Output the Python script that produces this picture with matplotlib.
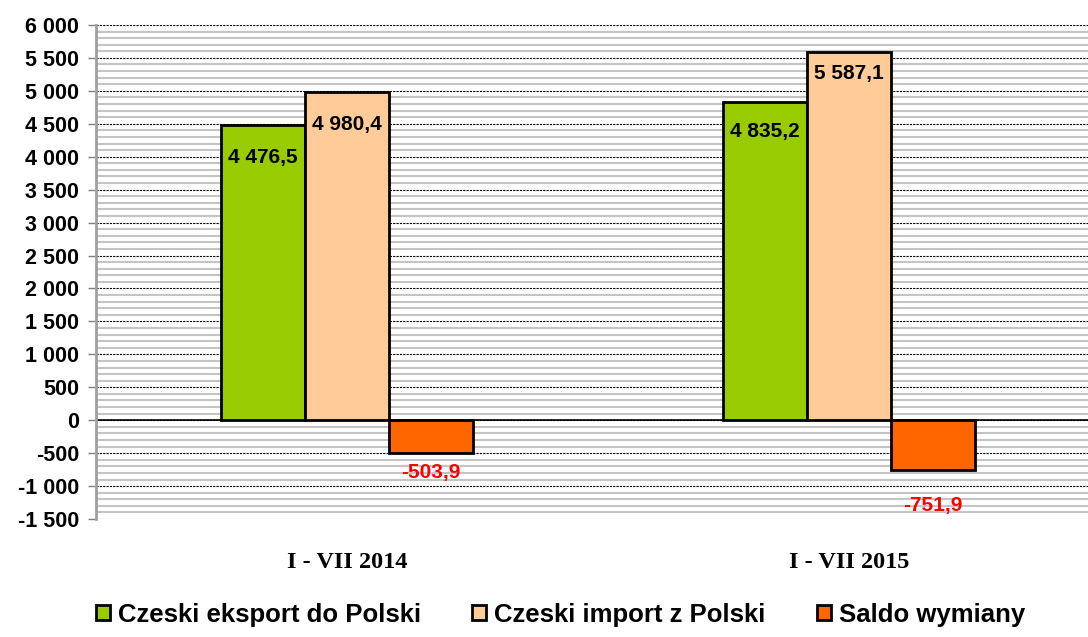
import matplotlib
matplotlib.use('Agg')
import matplotlib.pyplot as plt
import numpy as np
from matplotlib.ticker import MultipleLocator, FuncFormatter

categories = ['I - VII 2014', 'I - VII 2015']
series_names = ['Czeski eksport do Polski', 'Czeski import z Polski', 'Saldo wymiany']
eksport = [4476.5, 4835.2]
import_ = [4980.4, 5587.1]
saldo = [-503.9, -751.9]
colors = ['#99CC00', '#FFCC99', '#FF6600']
label_colors = ['black', 'black', '#FF0000']
# label distance below the bar end, in points
label_shift = [[23, 21.5], [23, 15], [14, 26]]

plt.rcParams['font.family'] = ['Liberation Sans', 'DejaVu Sans']
plt.rcParams['font.weight'] = 'bold'

fig = plt.figure(figsize=(10.88, 6.37), dpi=100)
ax = fig.add_axes([0.0882, 0.1852, 0.9118, 0.7756])

x = np.arange(len(categories))
w = 0.167
offsets = [-w, 0, w]
values = [eksport, import_, saldo]

for off, vals, col, name, lc, shifts in zip(offsets, values, colors, series_names,
                                            label_colors, label_shift):
    bars = ax.bar(x + off, vals, w, color=col, edgecolor='black', linewidth=2,
                  label=name, zorder=3)
    for b, v, sh in zip(bars, vals, shifts):
        txt = f'{v:,.1f}'.replace(',', ' ').replace('.', ',')
        ax.annotate(txt, (b.get_x() + b.get_width() / 2, v), xytext=(0, -sh),
                    textcoords='offset points', ha='center', va='center',
                    fontsize=15, fontweight='bold', color=lc, zorder=4)

ax.axhline(0, color='black', linewidth=1.2, zorder=2)

ax.set_ylim(-1500, 6000)
ax.set_xlim(-0.5, 1.476)
ax.yaxis.set_major_locator(MultipleLocator(500))
ax.yaxis.set_minor_locator(MultipleLocator(100))
ax.yaxis.set_major_formatter(FuncFormatter(lambda v, p: f'{int(v):,}'.replace(',', ' ')))
ax.grid(axis='y', which='major', color='black', linestyle=(0, (2, 1)), linewidth=0.8, zorder=1)
ax.grid(axis='y', which='minor', color='#C4C4C4', linestyle='-', linewidth=1.5, zorder=0)
ax.tick_params(axis='y', which='major', length=6, width=1, color='#808080',
               labelsize=15.5, pad=6)
ax.tick_params(axis='y', which='minor', length=0)
for t in ax.get_yticklabels():
    t.set_fontweight('bold')

ax.set_xticks(x)
ax.set_xticklabels(categories, fontfamily='Liberation Serif', fontweight='bold', fontsize=17.5)
ax.tick_params(axis='x', length=0, pad=24)

for s in ['top', 'right', 'bottom']:
    ax.spines[s].set_visible(False)
ax.spines['left'].set_color('#A0A0A0')
ax.spines['left'].set_linewidth(2)

fig.legend(loc='center', bbox_to_anchor=(0.515, 0.035), ncol=3, frameon=False,
           prop={'size': 18.5, 'weight': 'bold'}, handlelength=0.55, handleheight=0.55,
           handletextpad=0.3, columnspacing=2.0)

fig.savefig('out.png', dpi=100)
